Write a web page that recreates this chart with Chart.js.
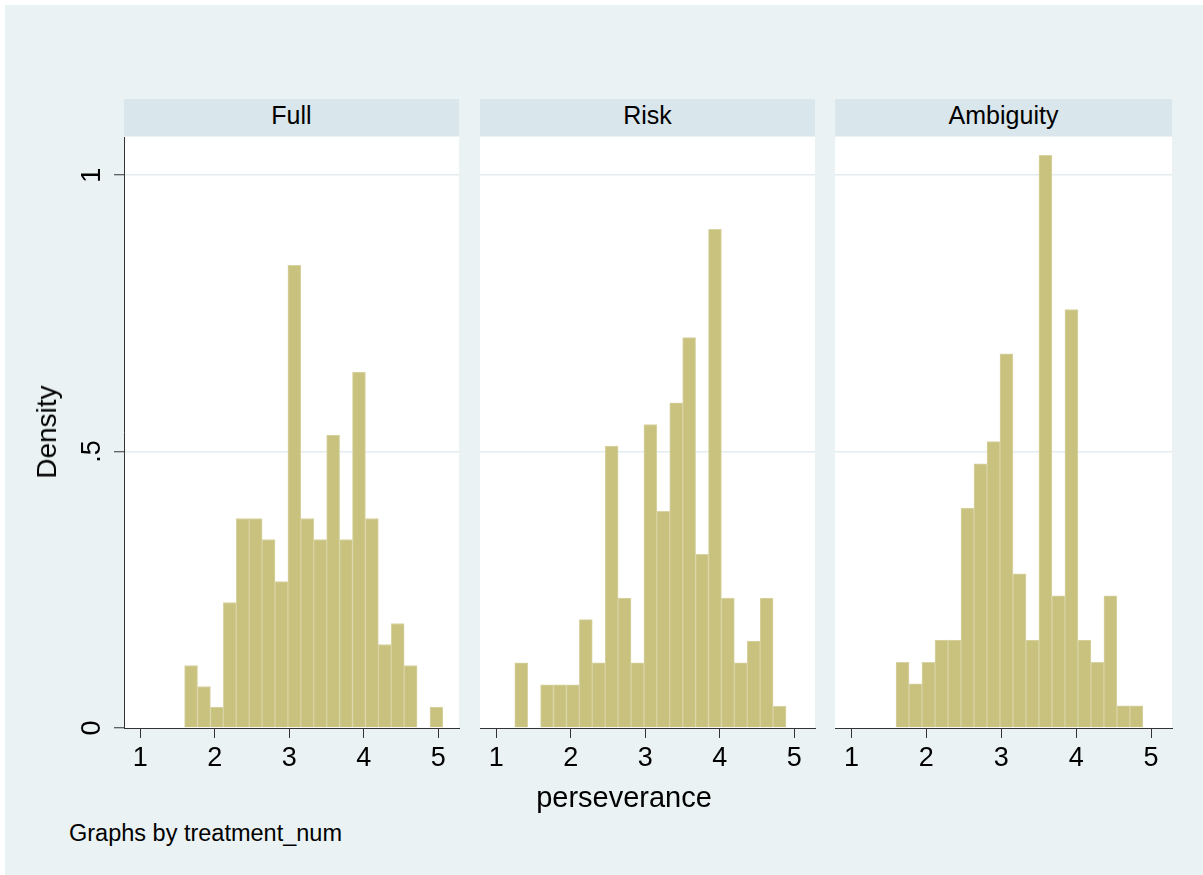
<!DOCTYPE html>
<html>
<head>
<meta charset="utf-8">
<script src="https://cdn.jsdelivr.net/npm/chart.js@4.4.1/dist/chart.umd.min.js"></script>
<style>
  body { margin: 0; background: #fff; font-family: "Liberation Sans", Arial, sans-serif; }
  #frame { position: absolute; left: 5px; top: 5px; width: 1198px; height: 870px; background: #EAF2F3; }
  canvas { position: absolute; }
  .strip { position: absolute; top: 99px; height: 37px; line-height: 33px; background: #D9E6EB;
           color: #000; font-size: 25px; text-align: center; }
  .txt { position: absolute; color: #000; white-space: nowrap; }
</style>
</head>
<body>
<div id="frame"></div>

<div class="strip" style="left:124px; width:335px">Full</div>
<div class="strip" style="left:480px; width:335px">Risk</div>
<div class="strip" style="left:835px; width:337px">Ambiguity</div>

<canvas id="panelFull" width="400" height="663" style="left:60px; top:127px"></canvas>
<canvas id="panelRisk" width="346" height="663" style="left:470px; top:127px"></canvas>
<canvas id="panelAmbiguity" width="348" height="663" style="left:825px; top:127px"></canvas>

<div class="txt" style="left:47px; top:432px; font-size:28px; line-height:28px; transform:translate(-50%,-50%) rotate(-90deg)">Density</div>
<div class="txt" style="left:424px; width:400px; top:783px; font-size:29px; line-height:29px; text-align:center">perseverance</div>
<div class="txt" style="left:69px; top:822px; font-size:23.5px; line-height:23.5px">Graphs by treatment_num</div>

<script>
// histogram bins (density per bin)
const binWidth = 0.1735;
const fullStart = 1.594;
const riskStart = 1.247;
const ambiguityStart = 1.595;

const fullDensity = [0.113, 0.075, 0.038, 0.227, 0.379, 0.379, 0.341, 0.265, 0.837, 0.379,
                     0.341, 0.530, 0.341, 0.644, 0.379, 0.151, 0.189, 0.113, 0, 0.038];
const riskDensity = [0.118, 0, 0.078, 0.078, 0.078, 0.196, 0.118, 0.510, 0.235, 0.118, 0.549,
                     0.392, 0.588, 0.706, 0.314, 0.902, 0.235, 0.118, 0.157, 0.235, 0.039];
const ambiguityDensity = [0.119, 0.080, 0.119, 0.159, 0.159, 0.398, 0.478, 0.518, 0.677, 0.279,
                          0.159, 1.036, 0.239, 0.757, 0.159, 0.119, 0.239, 0.040, 0.040];

const xTicks = [1, 2, 3, 4, 5];
const yTicks = [0, 0.5, 1];
const yTickLabels = ['0', '.5', '1'];

const barFill = '#C9C27F';
const barEdge = '#D8D3A3';
const axisColor = '#333';

// white plot region behind the bars
const plotBackground = {
    id: 'plotBackground',
    beforeDraw(chart) {
        const a = chart.chartArea;
        const ctx = chart.ctx;
        ctx.save();
        ctx.fillStyle = '#fff';
        ctx.fillRect(a.left, a.top, a.right - a.left, a.bottom - a.top);
        ctx.restore();
    }
};

function noPadding(s) {
    s.paddingTop = 0;
    s.paddingBottom = 0;
    s.paddingLeft = 0;
    s.paddingRight = 0;
}

function makePanel(id, start, values, showY) {
    let points = values.map((d, i) => ({ x: start + binWidth * (i + 0.5), y: d }));
    return new Chart(document.getElementById(id), {
        type: 'bar',
        data: {
            datasets: [{
                data: points,
                backgroundColor: barFill,
                borderColor: barEdge,
                borderWidth: 1,
                borderSkipped: 'start',
                barPercentage: 1,
                categoryPercentage: 1
            }]
        },
        options: {
            responsive: false,
            animation: false,
            layout: { padding: { left: 0, right: 1, top: 10, bottom: 0 } },
            plugins: { legend: { display: false }, tooltip: { enabled: false } },
            scales: {
                x: {
                    type: 'linear',
                    min: 0.78,
                    max: 5.28,
                    offset: false,
                    afterBuildTicks: (s) => { s.ticks = xTicks.map(v => ({ value: v })); },
                    afterFit: (s) => { s.height = 62; noPadding(s); },
                    border: { color: axisColor, width: 1 },
                    grid: { offset: false, drawOnChartArea: false, tickLength: 10, tickColor: axisColor, tickWidth: 1 },
                    ticks: {
                        autoSkip: false, maxRotation: 0, padding: 4, color: '#000',
                        font: { family: '"Liberation Sans", Arial, sans-serif', size: 27 }
                    }
                },
                y: {
                    min: 0,
                    max: 1.069,
                    afterBuildTicks: (s) => { s.ticks = yTicks.map(v => ({ value: v })); },
                    afterFit: (s) => { s.width = showY ? 64 : 10; noPadding(s); },
                    border: { display: showY, color: axisColor, width: 1 },
                    grid: {
                        color: (c) => c.tick && c.tick.value === 0 ? 'rgba(0,0,0,0)' : '#E3ECEF',
                        lineWidth: 1.5,
                        drawTicks: showY,
                        tickLength: 10,
                        tickColor: axisColor,
                        tickWidth: 1
                    },
                    ticks: {
                        display: showY,
                        minRotation: 90,
                        maxRotation: 90,
                        crossAlign: 'center',
                        padding: 10,
                        color: '#000',
                        font: { family: '"Liberation Sans", Arial, sans-serif', size: 27 },
                        callback: (v, i) => yTickLabels[i]
                    }
                }
            }
        },
        plugins: [plotBackground]
    });
}

makePanel('panelFull', fullStart, fullDensity, true);
makePanel('panelRisk', riskStart, riskDensity, false);
makePanel('panelAmbiguity', ambiguityStart, ambiguityDensity, false);
</script>
</body>
</html>
